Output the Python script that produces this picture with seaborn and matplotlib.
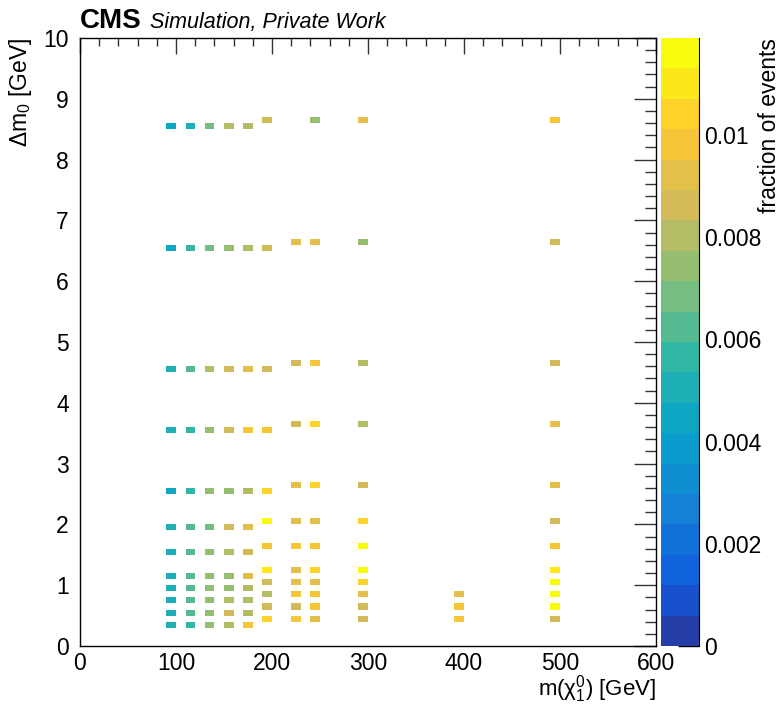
import numpy as np
import pandas as pd
import matplotlib
matplotlib.use("Agg")
import matplotlib.pyplot as plt
import seaborn as sns
from matplotlib.colors import ListedColormap, LinearSegmentedColormap
from matplotlib.ticker import MultipleLocator, FixedLocator, FixedFormatter

# ---------------- data ----------------
# delta m values (bin centres) for the different mass columns
dm_a = [0.35, 0.55, 0.75, 0.95, 1.15, 1.55, 1.95, 2.55, 3.55, 4.55, 6.55, 8.55]
dm_b = [0.45, 0.65, 0.85, 1.05, 1.25, 1.65, 2.05, 2.65, 3.65, 4.65, 6.65, 8.65]
dm_c = [0.45, 0.65, 0.85, 1.05, 1.25, 1.65, 2.05, 2.55, 3.55, 4.55, 6.55, 8.65]
dm_d = [0.45, 0.65, 0.85, 1.05, 1.25, 1.65, 2.05, 2.65, 3.65, 4.65, 6.65]
dm_e = [0.45, 0.65, 0.85]

# neutralino mass (bin centres, GeV)
m_chi = [95, 115, 135, 155, 175, 195, 225, 245, 295, 395, 495]

# fraction of events per column
f_95 = [0.00506, 0.00506, 0.00506, 0.00506, 0.00506, 0.00506, 0.00506, 0.00446, 0.00506, 0.00506, 0.00446, 0.00446]
f_115 = [0.00565, 0.00625, 0.00625, 0.00625, 0.00625, 0.00625, 0.00625, 0.00565, 0.00565, 0.00625, 0.00565, 0.00506]
f_135 = [0.00744, 0.00744, 0.00744, 0.00744, 0.00744, 0.00744, 0.00684, 0.00744, 0.00744, 0.00803, 0.00684, 0.00684]
f_155 = [0.00803, 0.00863, 0.00803, 0.00744, 0.00744, 0.00803, 0.00863, 0.00744, 0.00863, 0.00863, 0.00744, 0.00803]
f_175 = [0.00982, 0.00803, 0.00803, 0.00803, 0.00922, 0.00863, 0.00922, 0.00803, 0.00982, 0.00922, 0.00803, 0.00803]
f_195 = [0.01041, 0.00863, 0.00803, 0.00863, 0.01101, 0.00982, 0.01160, 0.01041, 0.00982, 0.00863, 0.00863, 0.00863]
f_225 = [0.00982, 0.00863, 0.00982, 0.00922, 0.00922, 0.00982, 0.00922, 0.00922, 0.00863, 0.00863, 0.00922]
f_245 = [0.00922, 0.00982, 0.00982, 0.00922, 0.01041, 0.00982, 0.00922, 0.01041, 0.01041, 0.00982, 0.00922, 0.00744]
f_295 = [0.00863, 0.00863, 0.00922, 0.01041, 0.01160, 0.01160, 0.01041, 0.00863, 0.00803, 0.00803, 0.00744, 0.00922]
f_395 = [0.00982, 0.00982, 0.00922]
f_495 = [0.00863, 0.01160, 0.01160, 0.01160, 0.01101, 0.00982, 0.00863, 0.00922, 0.00922, 0.00863, 0.00863, 0.00982]

dm_cols = [dm_a, dm_a, dm_a, dm_a, dm_a, dm_c, dm_d, dm_b, dm_b, dm_e, dm_b]
f_cols = [f_95, f_115, f_135, f_155, f_175, f_195, f_225, f_245, f_295, f_395, f_495]

x_ticklabels = ["0", "100", "200", "300", "400", "500", "600"]
y_ticklabels = ["0", "1", "2", "3", "4", "5", "6", "7", "8", "9", "10"]
z_ticks = [0, 0.002, 0.004, 0.006, 0.008, 0.01]
z_ticklabels = ["0", "0.002", "0.004", "0.006", "0.008", "0.01"]
z_max = 0.0119

# ---------------- histogram grid (10 GeV x 0.1 GeV bins) ----------------
nx, ny = 60, 100
grid = np.full((ny, nx), np.nan)
for m, dms, fs in zip(m_chi, dm_cols, f_cols):
    ix = int(np.floor(m / 10.0))
    for d, f in zip(dms, fs):
        iy = int(np.floor(d * 10.0))
        grid[iy, ix] = f
df = pd.DataFrame(grid)

# ---------------- ROOT kBird palette, 20 contour levels ----------------
stops = [0.0, 0.125, 0.25, 0.375, 0.5, 0.625, 0.75, 0.875, 1.0]
red = [0.2082, 0.0592, 0.0780, 0.0232, 0.1802, 0.5301, 0.8186, 0.9956, 0.9764]
green = [0.1664, 0.3599, 0.5041, 0.6419, 0.7178, 0.7492, 0.7328, 0.7862, 0.9832]
blue = [0.5293, 0.8684, 0.8385, 0.7914, 0.6425, 0.4662, 0.3499, 0.1968, 0.0539]
bird = LinearSegmentedColormap.from_list(
    "bird", [(s, (r, g, b)) for s, r, g, b in zip(stops, red, green, blue)])
nlev = 20
lev_cols = [bird(np.floor((i + 0.99) * 255 / nlev) / 254.0) for i in range(nlev)]
cmap = ListedColormap(lev_cols)

# ---------------- figure ----------------
sns.set_style("white")
plt.rcParams["font.family"] = ["Liberation Sans", "DejaVu Sans"]
plt.rcParams["mathtext.fontset"] = "custom"
plt.rcParams["mathtext.rm"] = "Liberation Sans"
plt.rcParams["mathtext.it"] = "Liberation Sans:italic"
plt.rcParams["mathtext.bf"] = "Liberation Sans:bold"
plt.rcParams["text.color"] = "black"
plt.rcParams["axes.labelcolor"] = "black"
plt.rcParams["xtick.color"] = "black"
plt.rcParams["ytick.color"] = "black"

fig = plt.figure(figsize=(7.84, 7.04), dpi=100)
ax = fig.add_axes([80 / 784, 58 / 704, 576 / 784, 608 / 704])
cax = fig.add_axes([661 / 784, 58 / 704, 38 / 784, 608 / 704])

sns.heatmap(df, ax=ax, cmap=cmap, vmin=0, vmax=z_max, cbar_ax=cax,
            xticklabels=False, yticklabels=False, linewidths=0)

ax.set_xlim(0, nx)
ax.set_ylim(0, ny)
for s in ax.spines.values():
    s.set_visible(True)
    s.set_color("black")
    s.set_linewidth(1.0)

ax.xaxis.set_major_locator(FixedLocator(np.arange(0, nx + 1, 10)))
ax.xaxis.set_major_formatter(FixedFormatter(x_ticklabels))
ax.xaxis.set_minor_locator(MultipleLocator(2))
ax.yaxis.set_major_locator(FixedLocator(np.arange(0, ny + 1, 10)))
ax.yaxis.set_major_formatter(FixedFormatter(y_ticklabels))
ax.yaxis.set_minor_locator(MultipleLocator(2))

ax.tick_params(axis="both", which="both", direction="in", top=True, right=True,
               color="#333333", labelcolor="black", width=1.0)
ax.tick_params(axis="x", which="major", length=11.5, labelsize=16.5, pad=4)
ax.tick_params(axis="x", which="minor", length=5.8)
ax.tick_params(axis="y", which="major", length=15.5, labelsize=16.5, pad=8)
ax.tick_params(axis="y", which="minor", length=7.9)
for lab in ax.get_yticklabels():
    lab.set_rotation(0)

ax.set_xlabel(r"m($\mathrm{\chi}_{1}^{0}$) [GeV]", fontsize=16, ha="right",
              color="black")
ax.xaxis.set_label_coords(1.0, -0.044)
ax.set_ylabel(r"$\Delta\mathrm{m}_{0}$ [GeV]", fontsize=16.5, ha="right",
              color="black")
ax.yaxis.set_label_coords(-0.08, 1.0)

# colorbar styling
cb = ax.collections[0].colorbar
cb.outline.set_visible(False)
cax.spines["right"].set_visible(True)
cax.spines["right"].set_color("black")
cb.set_ticks(z_ticks)
cb.set_ticklabels(z_ticklabels)
cax.tick_params(axis="y", which="both", direction="in", length=15, width=1.0,
                labelsize=16.5, pad=4, color="black", labelcolor="black")
cax.minorticks_off()
cb.set_label("fraction of events", fontsize=16.5, ha="right", color="black")
cax.yaxis.set_label_coords(2.55, 1.0)

fig.text(80 / 784, 1 - 28 / 704, "CMS", fontsize=20, fontweight="bold",
         ha="left", va="baseline", color="black")
fig.text(150 / 784, 1 - 28 / 704, "Simulation, Private Work", fontsize=15.5,
         fontstyle="italic", ha="left", va="baseline", color="black")

fig.savefig("out.png", dpi=100)
